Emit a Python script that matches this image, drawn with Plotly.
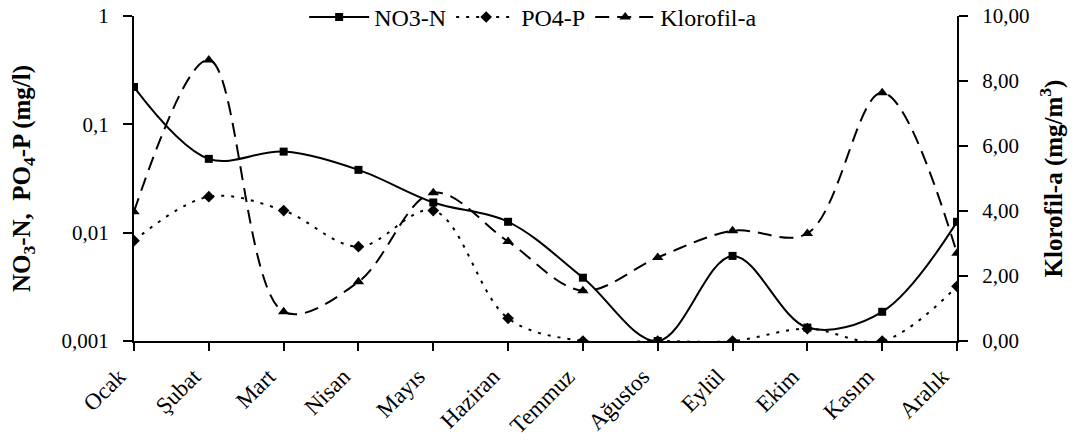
import plotly.graph_objects as go

months = ["Ocak", "Şubat", "Mart", "Nisan", "Mayıs", "Haziran", "Temmuz",
          "Ağustos", "Eylül", "Ekim", "Kasım", "Aralık"]
no3_n = [0.221, 0.048, 0.056, 0.038, 0.019, 0.0126, 0.00384, 0.001, 0.0061, 0.00133, 0.00186, 0.0126]
po4_p = [0.00843, 0.0215, 0.016, 0.00743, 0.016, 0.00162, 0.001, 0.001, 0.001, 0.0013, 0.001, 0.0032]
klorofil_a = [3.98, 8.65, 0.90, 1.82, 4.56, 3.06, 1.55, 2.57, 3.39, 3.31, 7.64, 2.70]

left_ticks = [0.001, 0.01, 0.1, 1]
left_ticktext = ["0,001", "0,01", "0,1", "1"]
right_ticks = [0, 2, 4, 6, 8, 10]
right_ticktext = ["0,00", "2,00", "4,00", "6,00", "8,00", "10,00"]

FONT = "Liberation Serif"

fig = go.Figure()
fig.add_trace(go.Scatter(
    x=months, y=no3_n, name="NO3-N", mode="lines+markers",
    line=dict(color="black", width=2, shape="spline", smoothing=1.0),
    marker=dict(symbol="square", size=8, color="black"),
))
fig.add_trace(go.Scatter(
    x=months, y=po4_p, name="PO4-P", mode="lines+markers",
    line=dict(color="black", width=2, dash="3px,7px", shape="spline", smoothing=1.0),
    marker=dict(symbol="diamond", size=9, color="black"),
))
fig.add_trace(go.Scatter(
    x=months, y=klorofil_a, name="Klorofil-a", mode="lines+markers", yaxis="y2",
    line=dict(color="black", width=2, dash="14px,8px", shape="spline", smoothing=1.0),
    marker=dict(symbol="triangle-up", size=10, color="black"),
))

fig.update_layout(
    width=1078, height=441,
    margin=dict(l=134, r=121, t=16, b=100, autoexpand=False),
    paper_bgcolor="white", plot_bgcolor="white",
    font=dict(family=FONT, size=21, color="black"),
    showlegend=True,
    legend=dict(orientation="h", x=0.485, xanchor="center", y=1.065, yanchor="top",
                bgcolor="rgba(0,0,0,0)", font=dict(family=FONT, size=24), itemwidth=60,
                tracegroupgap=0),
    xaxis=dict(
        type="category", range=[0, 11], showline=True, linecolor="black", linewidth=2,
        ticks="outside", ticklen=8, tickwidth=2, tickcolor="black",
        tickangle=-45, showgrid=False, zeroline=False,
        ticklabelstandoff=3, ticklabelshift=-15,
        tickfont=dict(family=FONT, size=23), automargin=False,
    ),
    yaxis=dict(
        type="log", range=[-3, 0], showline=True, linecolor="black", linewidth=2,
        ticks="outside", ticklen=9, tickwidth=2, tickcolor="black",
        tickmode="array", tickvals=left_ticks, ticktext=left_ticktext,
        showgrid=False, zeroline=False, ticklabelstandoff=10, automargin=False,
        title=dict(text="<b>NO<sub>3</sub>-N,  PO<sub>4</sub>-P (mg/l)</b>",
                   font=dict(family=FONT, size=25), standoff=24),
        tickfont=dict(family=FONT, size=21),
    ),
    yaxis2=dict(
        overlaying="y", side="right", range=[0, 10], showline=True, linecolor="black",
        linewidth=2, ticks="outside", ticklen=9, tickwidth=2, tickcolor="black",
        tickmode="array", tickvals=right_ticks, ticktext=right_ticktext,
        showgrid=False, zeroline=False, ticklabelstandoff=10, automargin=False,
        title=dict(text="<b>Klorofil-a (mg/m<sup>3</sup>)</b>",
                   font=dict(family=FONT, size=25), standoff=16),
        tickfont=dict(family=FONT, size=21),
    ),
)

fig.write_html("out.html")
